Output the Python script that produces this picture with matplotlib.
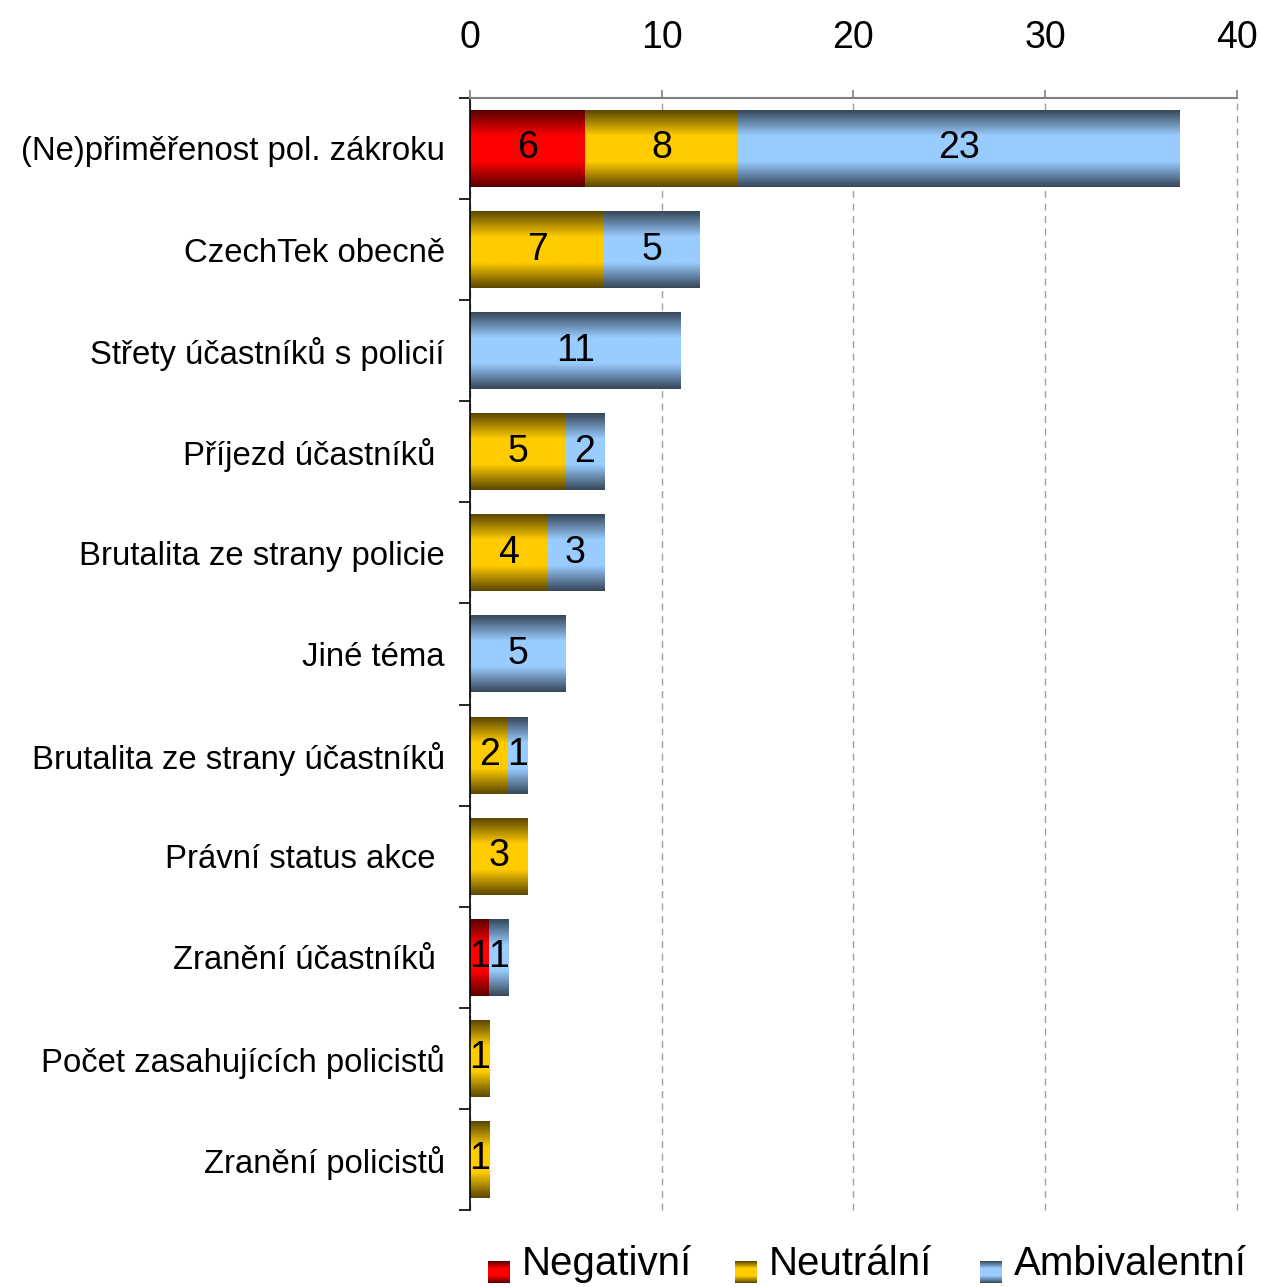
import numpy as np
import matplotlib
matplotlib.use('Agg')
import matplotlib.pyplot as plt
from matplotlib.colors import LinearSegmentedColormap

plt.rcParams['font.family'] = ['Liberation Sans', 'DejaVu Sans']

categories = ['(Ne)přiměřenost pol. zákroku', 'CzechTek obecně',
              'Střety účastníků s policií', 'Příjezd účastníků ',
              'Brutalita ze strany policie', 'Jiné téma',
              'Brutalita ze strany účastníků', 'Právní status akce ',
              'Zranění účastníků ', 'Počet zasahujících policistů',
              'Zranění policistů']
series_names = ['Negativní', 'Neutrální', 'Ambivalentní']
negativni = [6, 0, 0, 0, 0, 0, 0, 0, 1, 0, 0]
neutralni = [8, 7, 0, 5, 4, 0, 2, 3, 0, 1, 1]
ambivalentni = [23, 5, 11, 2, 3, 5, 1, 0, 1, 0, 0]
x_ticks = [0, 10, 20, 30, 40]

# tmavy okraj -> svetly stred -> tmavy okraj
shades = [('#580000', '#FF0000'), ('#5A4600', '#FFCC00'), ('#364659', '#99CCFF')]
cmaps = [LinearSegmentedColormap.from_list('g%d' % i, [d, b, b, d])
         for i, (d, b) in enumerate(shades)]
grad = np.linspace(0, 1, 256).reshape(-1, 1)

fig = plt.figure(figsize=(12.62, 12.87), dpi=100)
ax = fig.add_axes([0.3724, 0.0598, 0.6078, 0.8641])

y = np.arange(len(categories))
left = np.zeros(len(categories))
for vals, cmap in zip([negativni, neutralni, ambivalentni], cmaps):
    bars = ax.barh(y, vals, left=left, height=0.76, color='none', edgecolor='none')
    for rect, v in zip(bars, vals):
        if v == 0:
            continue
        x0, y0 = rect.get_x(), rect.get_y()
        w, h = rect.get_width(), rect.get_height()
        ax.imshow(grad, extent=[x0, x0 + w, y0 + h, y0], aspect='auto',
                  cmap=cmap, interpolation='bilinear', zorder=2)
        ax.text(x0 + w / 2, y0 + h / 2, str(v), ha='center', va='center',
                fontsize=27, zorder=3)
    left += np.array(vals)

ax.set_xlim(0, 40)
ax.set_ylim(len(categories) - 0.5, -0.5)
ax.set_xticks(x_ticks)
ax.xaxis.tick_top()
ax.tick_params(axis='x', labelsize=27, length=6, width=1.2, color='#808080', pad=24)
ax.set_yticks(y)
ax.set_yticklabels(categories, fontsize=23.7)
ax.tick_params(axis='y', which='major', length=0, pad=18)
ax.set_yticks(np.arange(-0.5, len(categories)), minor=True)
ax.tick_params(axis='y', which='minor', length=8, width=1.2, color='black')
ax.grid(axis='x', linestyle=(0, (5, 4)), color='#A0A0A0', linewidth=1, zorder=0)
for gl in ax.get_xgridlines():
    gl.set_clip_on(False)
ax.set_axisbelow(True)
for s in ['right', 'bottom']:
    ax.spines[s].set_visible(False)
ax.spines['top'].set_color('#808080')
ax.spines['top'].set_linewidth(1.5)
ax.spines['left'].set_color('black')
ax.spines['left'].set_linewidth(1.2)

# legenda
leg_x = [488, 735, 980]
for name, cmap, px in zip(series_names, cmaps, leg_x):
    lax = fig.add_axes([px / 1262, 0.003, 22 / 1262, 22 / 1287])
    lax.imshow(grad, aspect='auto', cmap=cmap, interpolation='nearest')
    lax.axis('off')
    fig.text((px + 34) / 1262, 0.009, name, fontsize=29, va='baseline')

fig.savefig('out.png', dpi=100)
